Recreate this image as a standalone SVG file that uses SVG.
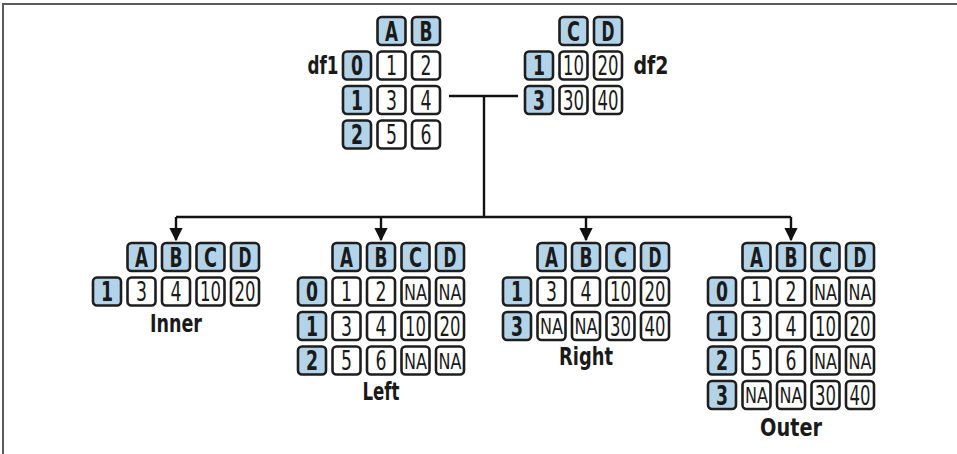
<svg xmlns="http://www.w3.org/2000/svg" width="957" height="454" viewBox="0 0 957 454">
<style>
.bg{fill:#fff}
.frame{stroke:#5a5a5a;stroke-width:2;fill:none}
.c{stroke:#1e1e1e;stroke-width:2.6}
.h{fill:#b3d3e8}
.d{fill:#fff}
text{font-family:"Liberation Sans Narrow","DejaVu Sans Condensed","Liberation Sans",sans-serif;fill:#1a1a1a;text-anchor:middle}
.b{font-weight:bold;font-size:26px}
.v{font-size:26px}
.na{font-size:21px}
.lbl{font-weight:bold;font-size:25px}
.ln{stroke:#111;stroke-width:2.4;fill:none}
</style>
<defs>
<marker id="ah" viewBox="0 0 10 10" refX="9" refY="5" markerWidth="5.5" markerHeight="5.5" orient="auto" markerUnits="strokeWidth">
<path d="M0,0 L10,5 L0,10 z" fill="#111"/>
</marker>
</defs>
<rect class="bg" x="0" y="0" width="957" height="454"/>
<path class="frame" d="M3,454 V4 H957"/>

<g id="connectors">
<path class="ln" d="M449,96 H518"/>
<path class="ln" d="M484,96 V217"/>
<path class="ln" d="M176,217 H791"/>
<path class="ln" d="M176,217 V240" marker-end="url(#ah)"/>
<path class="ln" d="M381,217 V240" marker-end="url(#ah)"/>
<path class="ln" d="M586,217 V240" marker-end="url(#ah)"/>
<path class="ln" d="M791,217 V240" marker-end="url(#ah)"/>
</g>

<g id="df1">
<text class="lbl" x="323" y="74" textLength="31" lengthAdjust="spacingAndGlyphs">df1</text>
<g transform="translate(343,17)">
<rect class="c h" x="34.5" y="0" width="28" height="28" rx="4"/><text class="b" x="48.5" y="23.5" textLength="13" lengthAdjust="spacingAndGlyphs">A</text>
<rect class="c h" x="69" y="0" width="28" height="28" rx="4"/><text class="b" x="83" y="23.5" textLength="13" lengthAdjust="spacingAndGlyphs">B</text>
<rect class="c h" x="0" y="34.5" width="28" height="28" rx="4"/><text class="b" x="14" y="58" textLength="12" lengthAdjust="spacingAndGlyphs">0</text>
<rect class="c d" x="34.5" y="34.5" width="28" height="28" rx="4"/><text class="v" x="48.5" y="58" textLength="11" lengthAdjust="spacingAndGlyphs">1</text>
<rect class="c d" x="69" y="34.5" width="28" height="28" rx="4"/><text class="v" x="83" y="58" textLength="11" lengthAdjust="spacingAndGlyphs">2</text>
<rect class="c h" x="0" y="69" width="28" height="28" rx="4"/><text class="b" x="14" y="92.5" textLength="12" lengthAdjust="spacingAndGlyphs">1</text>
<rect class="c d" x="34.5" y="69" width="28" height="28" rx="4"/><text class="v" x="48.5" y="92.5" textLength="11" lengthAdjust="spacingAndGlyphs">3</text>
<rect class="c d" x="69" y="69" width="28" height="28" rx="4"/><text class="v" x="83" y="92.5" textLength="11" lengthAdjust="spacingAndGlyphs">4</text>
<rect class="c h" x="0" y="103.5" width="28" height="28" rx="4"/><text class="b" x="14" y="127" textLength="12" lengthAdjust="spacingAndGlyphs">2</text>
<rect class="c d" x="34.5" y="103.5" width="28" height="28" rx="4"/><text class="v" x="48.5" y="127" textLength="11" lengthAdjust="spacingAndGlyphs">5</text>
<rect class="c d" x="69" y="103.5" width="28" height="28" rx="4"/><text class="v" x="83" y="127" textLength="11" lengthAdjust="spacingAndGlyphs">6</text>
</g>
</g>

<g id="df2">
<text class="lbl" x="651" y="74" textLength="35" lengthAdjust="spacingAndGlyphs">df2</text>
<g transform="translate(525,17)">
<rect class="c h" x="34.5" y="0" width="28" height="28" rx="4"/><text class="b" x="48.5" y="23.5" textLength="13" lengthAdjust="spacingAndGlyphs">C</text>
<rect class="c h" x="69" y="0" width="28" height="28" rx="4"/><text class="b" x="83" y="23.5" textLength="13" lengthAdjust="spacingAndGlyphs">D</text>
<rect class="c h" x="0" y="34.5" width="28" height="28" rx="4"/><text class="b" x="14" y="58" textLength="12" lengthAdjust="spacingAndGlyphs">1</text>
<rect class="c d" x="34.5" y="34.5" width="28" height="28" rx="4"/><text class="v" x="48.5" y="58" textLength="21" lengthAdjust="spacingAndGlyphs">10</text>
<rect class="c d" x="69" y="34.5" width="28" height="28" rx="4"/><text class="v" x="83" y="58" textLength="21" lengthAdjust="spacingAndGlyphs">20</text>
<rect class="c h" x="0" y="69" width="28" height="28" rx="4"/><text class="b" x="14" y="92.5" textLength="12" lengthAdjust="spacingAndGlyphs">3</text>
<rect class="c d" x="34.5" y="69" width="28" height="28" rx="4"/><text class="v" x="48.5" y="92.5" textLength="21" lengthAdjust="spacingAndGlyphs">30</text>
<rect class="c d" x="69" y="69" width="28" height="28" rx="4"/><text class="v" x="83" y="92.5" textLength="21" lengthAdjust="spacingAndGlyphs">40</text>
</g>
</g>

<g id="inner">
<g transform="translate(93,243)">
<rect class="c h" x="34.5" y="0" width="28" height="28" rx="4"/><text class="b" x="48.5" y="23.5" textLength="13" lengthAdjust="spacingAndGlyphs">A</text>
<rect class="c h" x="69" y="0" width="28" height="28" rx="4"/><text class="b" x="83" y="23.5" textLength="13" lengthAdjust="spacingAndGlyphs">B</text>
<rect class="c h" x="103.5" y="0" width="28" height="28" rx="4"/><text class="b" x="117.5" y="23.5" textLength="13" lengthAdjust="spacingAndGlyphs">C</text>
<rect class="c h" x="138" y="0" width="28" height="28" rx="4"/><text class="b" x="152" y="23.5" textLength="13" lengthAdjust="spacingAndGlyphs">D</text>
<rect class="c h" x="0" y="34.5" width="28" height="28" rx="4"/><text class="b" x="14" y="58" textLength="12" lengthAdjust="spacingAndGlyphs">1</text>
<rect class="c d" x="34.5" y="34.5" width="28" height="28" rx="4"/><text class="v" x="48.5" y="58" textLength="11" lengthAdjust="spacingAndGlyphs">3</text>
<rect class="c d" x="69" y="34.5" width="28" height="28" rx="4"/><text class="v" x="83" y="58" textLength="11" lengthAdjust="spacingAndGlyphs">4</text>
<rect class="c d" x="103.5" y="34.5" width="28" height="28" rx="4"/><text class="v" x="117.5" y="58" textLength="21" lengthAdjust="spacingAndGlyphs">10</text>
<rect class="c d" x="138" y="34.5" width="28" height="28" rx="4"/><text class="v" x="152" y="58" textLength="21" lengthAdjust="spacingAndGlyphs">20</text>
</g>
<text class="lbl" x="176" y="332" textLength="52" lengthAdjust="spacingAndGlyphs">Inner</text>
</g>

<g id="left">
<g transform="translate(298,243)">
<rect class="c h" x="34.5" y="0" width="28" height="28" rx="4"/><text class="b" x="48.5" y="23.5" textLength="13" lengthAdjust="spacingAndGlyphs">A</text>
<rect class="c h" x="69" y="0" width="28" height="28" rx="4"/><text class="b" x="83" y="23.5" textLength="13" lengthAdjust="spacingAndGlyphs">B</text>
<rect class="c h" x="103.5" y="0" width="28" height="28" rx="4"/><text class="b" x="117.5" y="23.5" textLength="13" lengthAdjust="spacingAndGlyphs">C</text>
<rect class="c h" x="138" y="0" width="28" height="28" rx="4"/><text class="b" x="152" y="23.5" textLength="13" lengthAdjust="spacingAndGlyphs">D</text>
<rect class="c h" x="0" y="34.5" width="28" height="28" rx="4"/><text class="b" x="14" y="58" textLength="12" lengthAdjust="spacingAndGlyphs">0</text>
<rect class="c d" x="34.5" y="34.5" width="28" height="28" rx="4"/><text class="v" x="48.5" y="58" textLength="11" lengthAdjust="spacingAndGlyphs">1</text>
<rect class="c d" x="69" y="34.5" width="28" height="28" rx="4"/><text class="v" x="83" y="58" textLength="11" lengthAdjust="spacingAndGlyphs">2</text>
<rect class="c d" x="103.5" y="34.5" width="28" height="28" rx="4"/><text class="na" x="117.5" y="56.5" textLength="23" lengthAdjust="spacingAndGlyphs">NA</text>
<rect class="c d" x="138" y="34.5" width="28" height="28" rx="4"/><text class="na" x="152" y="56.5" textLength="23" lengthAdjust="spacingAndGlyphs">NA</text>
<rect class="c h" x="0" y="69" width="28" height="28" rx="4"/><text class="b" x="14" y="92.5" textLength="12" lengthAdjust="spacingAndGlyphs">1</text>
<rect class="c d" x="34.5" y="69" width="28" height="28" rx="4"/><text class="v" x="48.5" y="92.5" textLength="11" lengthAdjust="spacingAndGlyphs">3</text>
<rect class="c d" x="69" y="69" width="28" height="28" rx="4"/><text class="v" x="83" y="92.5" textLength="11" lengthAdjust="spacingAndGlyphs">4</text>
<rect class="c d" x="103.5" y="69" width="28" height="28" rx="4"/><text class="v" x="117.5" y="92.5" textLength="21" lengthAdjust="spacingAndGlyphs">10</text>
<rect class="c d" x="138" y="69" width="28" height="28" rx="4"/><text class="v" x="152" y="92.5" textLength="21" lengthAdjust="spacingAndGlyphs">20</text>
<rect class="c h" x="0" y="103.5" width="28" height="28" rx="4"/><text class="b" x="14" y="127" textLength="12" lengthAdjust="spacingAndGlyphs">2</text>
<rect class="c d" x="34.5" y="103.5" width="28" height="28" rx="4"/><text class="v" x="48.5" y="127" textLength="11" lengthAdjust="spacingAndGlyphs">5</text>
<rect class="c d" x="69" y="103.5" width="28" height="28" rx="4"/><text class="v" x="83" y="127" textLength="11" lengthAdjust="spacingAndGlyphs">6</text>
<rect class="c d" x="103.5" y="103.5" width="28" height="28" rx="4"/><text class="na" x="117.5" y="125.5" textLength="23" lengthAdjust="spacingAndGlyphs">NA</text>
<rect class="c d" x="138" y="103.5" width="28" height="28" rx="4"/><text class="na" x="152" y="125.5" textLength="23" lengthAdjust="spacingAndGlyphs">NA</text>
</g>
<text class="lbl" x="381" y="400" textLength="37" lengthAdjust="spacingAndGlyphs">Left</text>
</g>

<g id="right">
<g transform="translate(503,243)">
<rect class="c h" x="34.5" y="0" width="28" height="28" rx="4"/><text class="b" x="48.5" y="23.5" textLength="13" lengthAdjust="spacingAndGlyphs">A</text>
<rect class="c h" x="69" y="0" width="28" height="28" rx="4"/><text class="b" x="83" y="23.5" textLength="13" lengthAdjust="spacingAndGlyphs">B</text>
<rect class="c h" x="103.5" y="0" width="28" height="28" rx="4"/><text class="b" x="117.5" y="23.5" textLength="13" lengthAdjust="spacingAndGlyphs">C</text>
<rect class="c h" x="138" y="0" width="28" height="28" rx="4"/><text class="b" x="152" y="23.5" textLength="13" lengthAdjust="spacingAndGlyphs">D</text>
<rect class="c h" x="0" y="34.5" width="28" height="28" rx="4"/><text class="b" x="14" y="58" textLength="12" lengthAdjust="spacingAndGlyphs">1</text>
<rect class="c d" x="34.5" y="34.5" width="28" height="28" rx="4"/><text class="v" x="48.5" y="58" textLength="11" lengthAdjust="spacingAndGlyphs">3</text>
<rect class="c d" x="69" y="34.5" width="28" height="28" rx="4"/><text class="v" x="83" y="58" textLength="11" lengthAdjust="spacingAndGlyphs">4</text>
<rect class="c d" x="103.5" y="34.5" width="28" height="28" rx="4"/><text class="v" x="117.5" y="58" textLength="21" lengthAdjust="spacingAndGlyphs">10</text>
<rect class="c d" x="138" y="34.5" width="28" height="28" rx="4"/><text class="v" x="152" y="58" textLength="21" lengthAdjust="spacingAndGlyphs">20</text>
<rect class="c h" x="0" y="69" width="28" height="28" rx="4"/><text class="b" x="14" y="92.5" textLength="12" lengthAdjust="spacingAndGlyphs">3</text>
<rect class="c d" x="34.5" y="69" width="28" height="28" rx="4"/><text class="na" x="48.5" y="91" textLength="23" lengthAdjust="spacingAndGlyphs">NA</text>
<rect class="c d" x="69" y="69" width="28" height="28" rx="4"/><text class="na" x="83" y="91" textLength="23" lengthAdjust="spacingAndGlyphs">NA</text>
<rect class="c d" x="103.5" y="69" width="28" height="28" rx="4"/><text class="v" x="117.5" y="92.5" textLength="21" lengthAdjust="spacingAndGlyphs">30</text>
<rect class="c d" x="138" y="69" width="28" height="28" rx="4"/><text class="v" x="152" y="92.5" textLength="21" lengthAdjust="spacingAndGlyphs">40</text>
</g>
<text class="lbl" x="586" y="365" textLength="54" lengthAdjust="spacingAndGlyphs">Right</text>
</g>

<g id="outer">
<g transform="translate(708,243)">
<rect class="c h" x="34.5" y="0" width="28" height="28" rx="4"/><text class="b" x="48.5" y="23.5" textLength="13" lengthAdjust="spacingAndGlyphs">A</text>
<rect class="c h" x="69" y="0" width="28" height="28" rx="4"/><text class="b" x="83" y="23.5" textLength="13" lengthAdjust="spacingAndGlyphs">B</text>
<rect class="c h" x="103.5" y="0" width="28" height="28" rx="4"/><text class="b" x="117.5" y="23.5" textLength="13" lengthAdjust="spacingAndGlyphs">C</text>
<rect class="c h" x="138" y="0" width="28" height="28" rx="4"/><text class="b" x="152" y="23.5" textLength="13" lengthAdjust="spacingAndGlyphs">D</text>
<rect class="c h" x="0" y="34.5" width="28" height="28" rx="4"/><text class="b" x="14" y="58" textLength="12" lengthAdjust="spacingAndGlyphs">0</text>
<rect class="c d" x="34.5" y="34.5" width="28" height="28" rx="4"/><text class="v" x="48.5" y="58" textLength="11" lengthAdjust="spacingAndGlyphs">1</text>
<rect class="c d" x="69" y="34.5" width="28" height="28" rx="4"/><text class="v" x="83" y="58" textLength="11" lengthAdjust="spacingAndGlyphs">2</text>
<rect class="c d" x="103.5" y="34.5" width="28" height="28" rx="4"/><text class="na" x="117.5" y="56.5" textLength="23" lengthAdjust="spacingAndGlyphs">NA</text>
<rect class="c d" x="138" y="34.5" width="28" height="28" rx="4"/><text class="na" x="152" y="56.5" textLength="23" lengthAdjust="spacingAndGlyphs">NA</text>
<rect class="c h" x="0" y="69" width="28" height="28" rx="4"/><text class="b" x="14" y="92.5" textLength="12" lengthAdjust="spacingAndGlyphs">1</text>
<rect class="c d" x="34.5" y="69" width="28" height="28" rx="4"/><text class="v" x="48.5" y="92.5" textLength="11" lengthAdjust="spacingAndGlyphs">3</text>
<rect class="c d" x="69" y="69" width="28" height="28" rx="4"/><text class="v" x="83" y="92.5" textLength="11" lengthAdjust="spacingAndGlyphs">4</text>
<rect class="c d" x="103.5" y="69" width="28" height="28" rx="4"/><text class="v" x="117.5" y="92.5" textLength="21" lengthAdjust="spacingAndGlyphs">10</text>
<rect class="c d" x="138" y="69" width="28" height="28" rx="4"/><text class="v" x="152" y="92.5" textLength="21" lengthAdjust="spacingAndGlyphs">20</text>
<rect class="c h" x="0" y="103.5" width="28" height="28" rx="4"/><text class="b" x="14" y="127" textLength="12" lengthAdjust="spacingAndGlyphs">2</text>
<rect class="c d" x="34.5" y="103.5" width="28" height="28" rx="4"/><text class="v" x="48.5" y="127" textLength="11" lengthAdjust="spacingAndGlyphs">5</text>
<rect class="c d" x="69" y="103.5" width="28" height="28" rx="4"/><text class="v" x="83" y="127" textLength="11" lengthAdjust="spacingAndGlyphs">6</text>
<rect class="c d" x="103.5" y="103.5" width="28" height="28" rx="4"/><text class="na" x="117.5" y="125.5" textLength="23" lengthAdjust="spacingAndGlyphs">NA</text>
<rect class="c d" x="138" y="103.5" width="28" height="28" rx="4"/><text class="na" x="152" y="125.5" textLength="23" lengthAdjust="spacingAndGlyphs">NA</text>
<rect class="c h" x="0" y="138" width="28" height="28" rx="4"/><text class="b" x="14" y="161.5" textLength="12" lengthAdjust="spacingAndGlyphs">3</text>
<rect class="c d" x="34.5" y="138" width="28" height="28" rx="4"/><text class="na" x="48.5" y="160" textLength="23" lengthAdjust="spacingAndGlyphs">NA</text>
<rect class="c d" x="69" y="138" width="28" height="28" rx="4"/><text class="na" x="83" y="160" textLength="23" lengthAdjust="spacingAndGlyphs">NA</text>
<rect class="c d" x="103.5" y="138" width="28" height="28" rx="4"/><text class="v" x="117.5" y="161.5" textLength="21" lengthAdjust="spacingAndGlyphs">30</text>
<rect class="c d" x="138" y="138" width="28" height="28" rx="4"/><text class="v" x="152" y="161.5" textLength="21" lengthAdjust="spacingAndGlyphs">40</text>
</g>
<text class="lbl" x="791" y="436" textLength="62" lengthAdjust="spacingAndGlyphs">Outer</text>
</g>
</svg>
